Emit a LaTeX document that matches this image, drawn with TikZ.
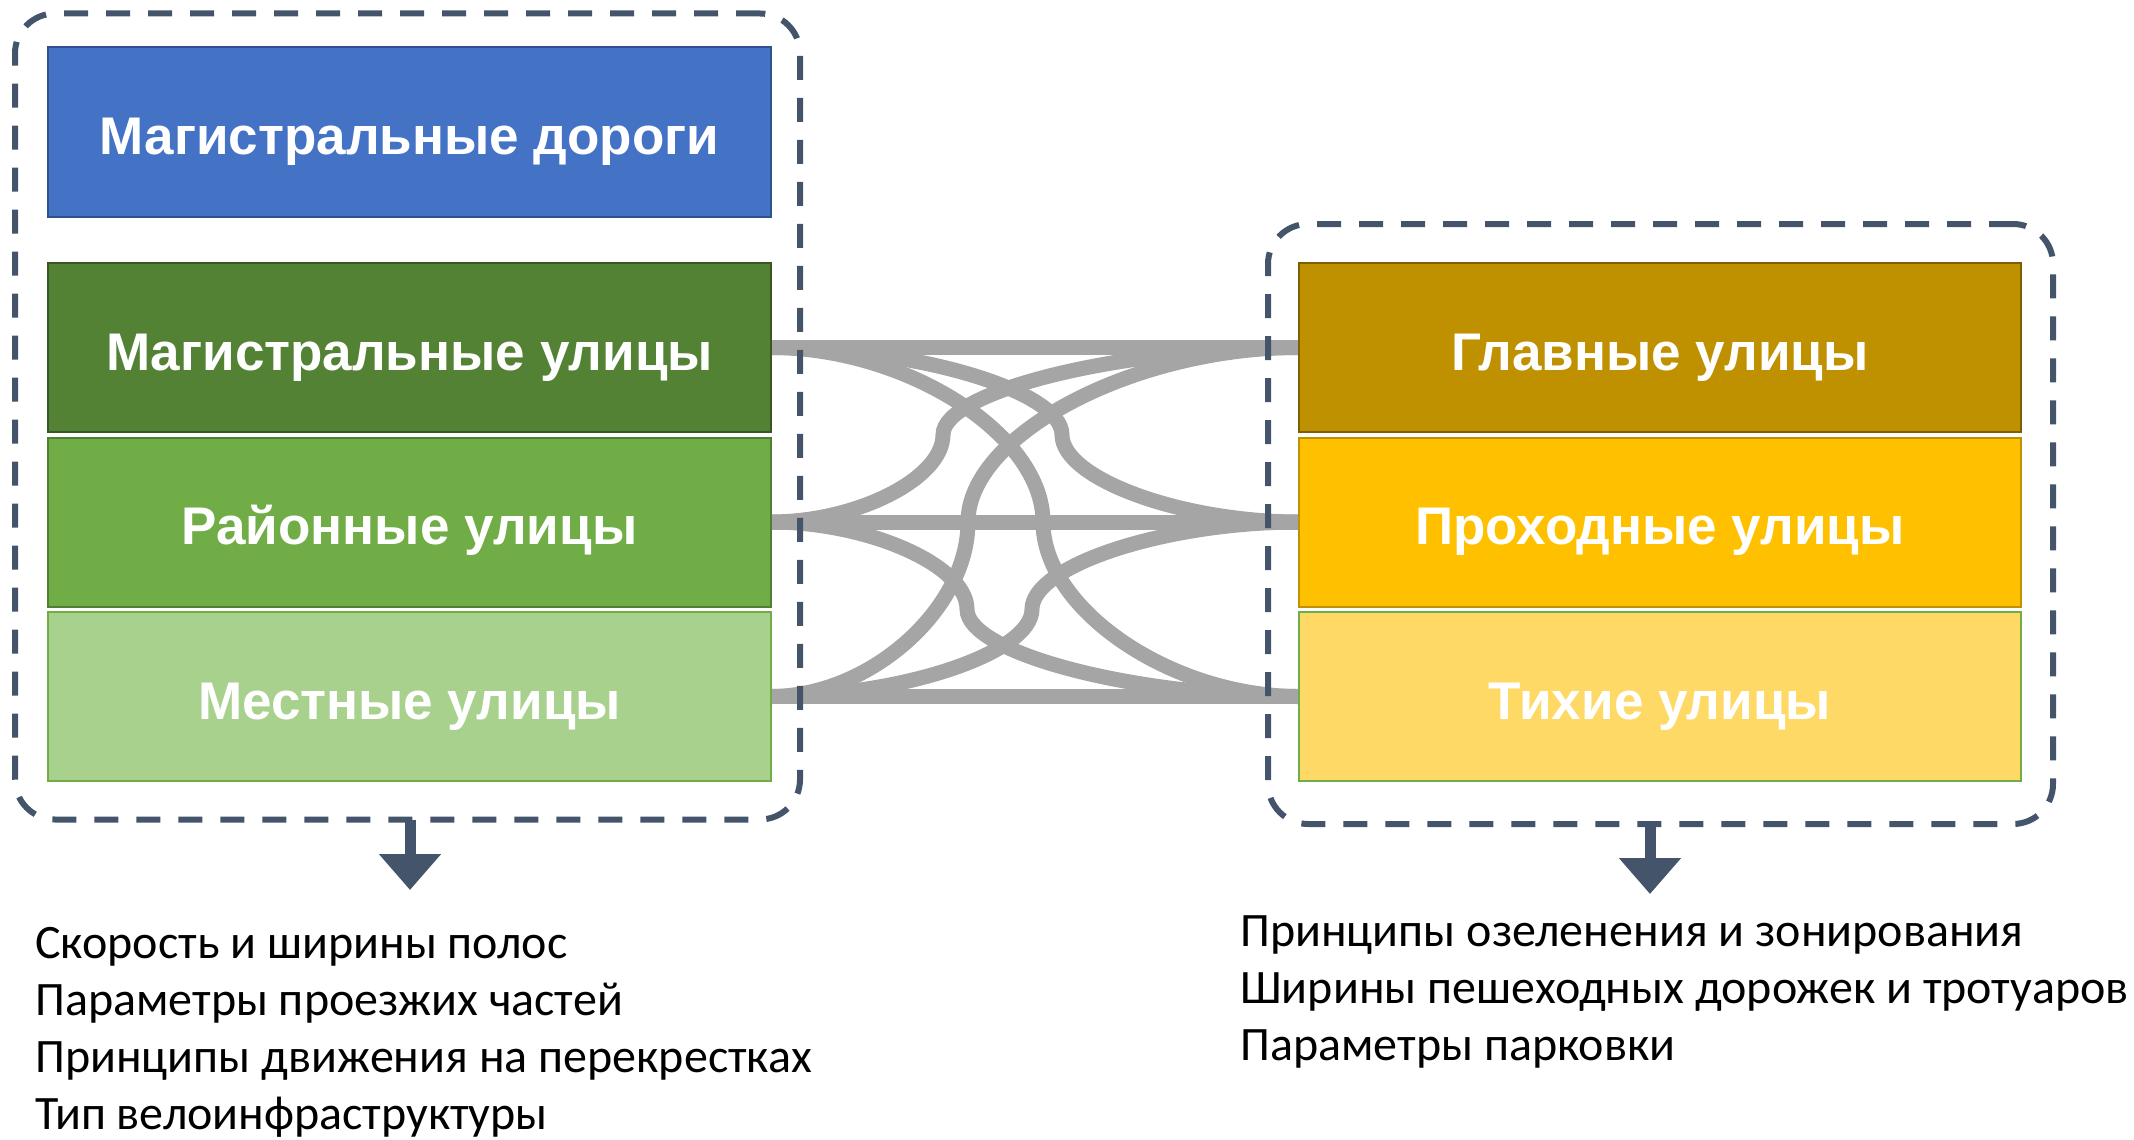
\documentclass[tikz,border=0pt]{standalone}
\usepackage{fontspec}
\setmainfont{Carlito}
\newfontfamily\boxfont{Liberation Sans}
\usetikzlibrary{calc,arrows.meta}
\definecolor{cblue}{HTML}{4472C4}\definecolor{cbluel}{HTML}{2F528F}
\definecolor{cgreenA}{HTML}{548235}\definecolor{cgreenAl}{HTML}{385723}
\definecolor{cgreenB}{HTML}{70AD47}\definecolor{cgreenBl}{HTML}{507E32}
\definecolor{cgreenC}{HTML}{A9D18E}\definecolor{cgreenCl}{HTML}{70AD47}
\definecolor{cgoldA}{HTML}{BF9000}\definecolor{cgoldAl}{HTML}{7F6000}
\definecolor{cgoldB}{HTML}{FFC000}\definecolor{cgoldBl}{HTML}{BF9000}
\definecolor{cgoldC}{HTML}{FFD966}\definecolor{cgoldCl}{HTML}{70AD47}
\definecolor{cconn}{HTML}{A5A5A5}
\definecolor{cslate}{HTML}{44546A}
\tikzset{
  catbox/.style={rectangle, line width=2pt, minimum width=723pt, minimum height=169pt,
    inner sep=0pt, outer sep=0pt, text=white, text height=45pt, text depth=0pt,
    font=\boxfont\bfseries\fontsize{53}{58}\selectfont},
  conn/.style={draw=cconn, line width=15pt, line cap=butt},
  frame/.style={draw=cslate, line width=6pt, dash pattern=on 24pt off 18pt, rounded corners=40pt,
    inner sep=0pt, outer sep=0pt},
  bigarrow/.style={draw=cslate, line width=11pt, -{Triangle[width=60pt,length=36pt]}},
  note/.style={anchor=base west, inner sep=0pt, font=\fontsize{48}{56}\selectfont, text=black},
}
\newcommand\curveconn[3]{%
  \draw[conn] let \p1=(#1.east), \p2=(#2.west) in
    (\p1) .. controls ({(\x1+#3pt)/2},\y1) and (#3pt,{\y1+(\y2-\y1)/4}) .. (#3pt,{(\y1+\y2)/2})
          .. controls (#3pt,{\y1+3*(\y2-\y1)/4}) and ({(#3pt+\x2)/2},\y2) .. (\p2);}
\begin{document}
\begin{tikzpicture}[x=1pt,y=-1pt]
\useasboundingbox (0,0) rectangle (2134,1140);
% box positions (drawn after connectors)
\path
  (409.5,132) node[catbox] (road) {}
  (409.5,347.5) node[catbox] (lA) {}
  (409.5,522) node[catbox] (lB) {}
  (409.5,696.5) node[catbox] (lC) {}
  (1660,347.5) node[catbox, minimum width=722pt] (rA) {}
  (1660,522) node[catbox, minimum width=722pt] (rB) {}
  (1660,696.5) node[catbox, minimum width=722pt] (rC) {};
% connectors
\draw[conn] (lA.east) -- (rA.west);
\draw[conn] (lB.east) -- (rB.west);
\draw[conn] (lC.east) -- (rC.west);
\curveconn{lA}{rB}{1062}
\curveconn{lA}{rC}{1043}
\curveconn{lB}{rA}{943}
\curveconn{lB}{rC}{967}
\curveconn{lC}{rA}{968}
\curveconn{lC}{rB}{1032}
% boxes drawn
\node[catbox, fill=cblue, draw=cbluel] at (road) {Магистральные дороги};
\node[catbox, fill=cgreenA, draw=cgreenAl] at (lA) {Магистральные улицы};
\node[catbox, fill=cgreenB, draw=cgreenBl] at (lB) {Районные улицы};
\node[catbox, fill=cgreenC, draw=cgreenCl] at (lC) {Местные улицы};
\node[catbox, minimum width=722pt, fill=cgoldA, draw=cgoldAl] at (rA) {Главные улицы};
\node[catbox, minimum width=722pt, fill=cgoldB, draw=cgoldBl] at (rB) {Проходные улицы};
\node[catbox, minimum width=722pt, fill=cgoldC, draw=cgoldCl] at (rC) {Тихие улицы};
% frames
\node[frame, minimum width=785pt, minimum height=806pt] (lframe) at (407.5,416.5) {};
\node[frame, minimum width=785pt, minimum height=600pt] (rframe) at (1660.5,524) {};
% arrows
\coordinate (ltip) at (410,890);
\coordinate (rtip) at (1650,894);
\draw[bigarrow] (lframe.south -| ltip) -- (ltip);
\draw[bigarrow] (rframe.south -| rtip) -- (rtip);
% notes
\node[note] (n1) at (35,958) {Скорость и ширины полос};
\node[note] (n2) at (35,1015) {Параметры проезжих частей};
\node[note] (n3) at (35,1072) {Принципы движения на перекрестках};
\node[note] (n4) at (35,1129) {Тип велоинфраструктуры};
\node[note] (m1) at (1240,946) {Принципы озеленения и зонирования};
\node[note] (m2) at (1240,1003) {Ширины пешеходных дорожек и тротуаров};
\node[note] (m3) at (1240,1060) {Параметры парковки};
\end{tikzpicture}
\end{document}
